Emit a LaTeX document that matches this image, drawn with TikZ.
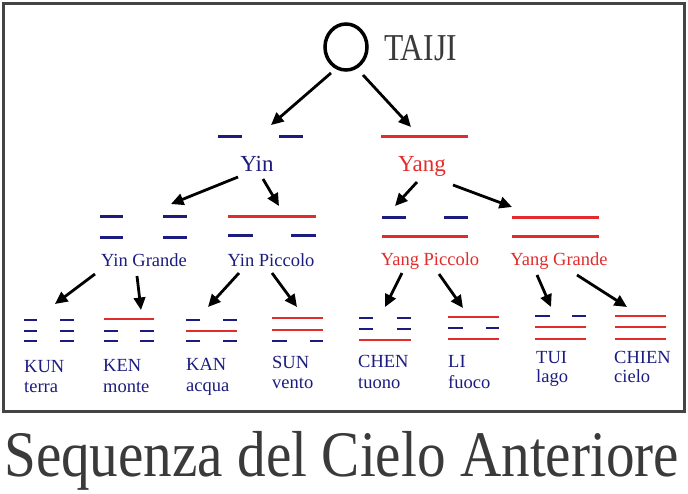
\documentclass[tikz,border=0pt]{standalone}
\usepackage{fontspec}
\setmainfont{Liberation Serif}
\usetikzlibrary{arrows.meta,shapes.geometric}
\definecolor{yinblue}{RGB}{28,28,128}
\definecolor{yangred}{RGB}{226,44,44}
\definecolor{txtgrey}{RGB}{58,58,58}
\definecolor{framegrey}{RGB}{68,68,68}
\begin{document}
\begin{tikzpicture}[x=1pt,y=-1pt,
  arr/.style={line width=2.8pt,-{Triangle[length=12.5pt,width=11.5pt]}},
  yinl/.style={yinblue,line width=3pt},
  yangl/.style={yangred,line width=3pt},
  yins/.style={yinblue,line width=2.2pt},
  yangs/.style={yangred,line width=2.2pt},
  lbl/.style={inner sep=0pt,anchor=base west,font=\fontsize{18.5}{18.5}\selectfont,text=yinblue},
  mid/.style={inner sep=0pt,anchor=base,font=\fontsize{18.5}{18.5}\selectfont},
  top/.style={inner sep=0pt,anchor=base,font=\fontsize{23}{23}\selectfont}]
\useasboundingbox (0,0) rectangle (688,493);
\draw[framegrey,line width=3pt] (3.5,3.5) rectangle (684.5,411.5);
% Taiji
\node (taiji) [draw,ellipse,line width=3.5pt,minimum width=42pt,minimum height=46pt,inner sep=0pt] at (346,47) {};
\node (taijit) [inner sep=0pt,anchor=base west,font=\fontsize{38}{38}\selectfont,text=txtgrey] at (384,60) {\scalebox{0.83}[1]{TAIJI}};
% level 1 lines
\draw[yinl] (218,136) -- (242,136) (279,136) -- (303,136);
\draw[yangl] (381,136) -- (468,136);
\node (yin) [top,text=yinblue] at (257,171) {Yin};
\node (yang) [top,text=yangred] at (422,171) {Yang};
% level 2 lines
\draw[yinl] (100,216) -- (123,216) (163,216) -- (187,216) (100,237) -- (123,237) (163,237) -- (187,237);
\draw[yangl] (228,216) -- (316,216);
\draw[yinl] (228,235) -- (253,235) (291,235) -- (316,235);
\draw[yinl] (382,217) -- (406,217) (444,217) -- (468,217);
\draw[yangl] (382,236) -- (468,236);
\draw[yangl] (512,217) -- (599,217) (512,236) -- (599,236);
\node (yingr) [mid,text=yinblue] at (144,266) {Yin Grande};
\node (yinpi) [mid,text=yinblue] at (271,266) {Yin Piccolo};
\node (yangpi) [mid,text=yangred] at (430,265) {Yang Piccolo};
\node (yanggr) [mid,text=yangred] at (559,265) {Yang Grande};
% level 3 trigrams
% KUN
\draw[yins] (24,320) -- (37,320) (60,320) -- (74,320) (24,331) -- (37,331) (60,331) -- (74,331) (24,341) -- (37,341) (60,341) -- (74,341);
% KEN
\draw[yangs] (104,319) -- (154,319);
\draw[yins] (104,331) -- (118,331) (140,331) -- (154,331) (104,341) -- (118,341) (140,341) -- (154,341);
% KAN
\draw[yins] (186,320) -- (200,320) (223,320) -- (237,320) (186,341) -- (200,341) (223,341) -- (237,341);
\draw[yangs] (186,331) -- (237,331);
% SUN
\draw[yangs] (272,318) -- (323,318) (272,330) -- (323,330);
\draw[yins] (272,341) -- (287,341) (310,341) -- (323,341);
% CHEN
\draw[yins] (359,318) -- (373,318) (397,318) -- (411,318) (359,329) -- (373,329) (397,329) -- (411,329);
\draw[yangs] (359,340) -- (411,340);
% LI
\draw[yangs] (448,317) -- (499,317) (448,339) -- (499,339);
\draw[yins] (448,328) -- (463,328) (486,328) -- (499,328);
% TUI
\draw[yins] (535,316) -- (550,316) (572,316) -- (586,316);
\draw[yangs] (535,327) -- (586,327) (535,339) -- (586,339);
% CHIEN
\draw[yangs] (615,316) -- (666,316) (615,327) -- (666,327) (615,339) -- (666,339);
% labels
\node (kun) [lbl] at (24,372) {KUN};
\node (kunb) [lbl] at (24,392) {terra};
\node (ken) [lbl] at (103,371) {KEN};
\node (kenb) [lbl] at (103,392) {monte};
\node (kan) [lbl] at (186,370) {KAN};
\node (kanb) [lbl] at (186,391) {acqua};
\node (sun) [lbl] at (272,368) {SUN};
\node (sunb) [lbl] at (272,388) {vento};
\node (chen) [lbl] at (358,367) {CHEN};
\node (chenb) [lbl] at (358,388) {tuono};
\node (li) [lbl] at (448,367) {LI};
\node (lib) [lbl] at (448,388) {fuoco};
\node (tui) [lbl] at (536,363) {TUI};
\node (tuib) [lbl] at (536,382) {lago};
\node (chien) [lbl] at (614,363) {CHIEN};
\node (chienb) [lbl] at (614,382) {cielo};
% arrow end points
\coordinate (a1s) at (331,73); \coordinate (a1e) at (271,125);
\coordinate (a2s) at (363,75); \coordinate (a2e) at (411,127);
\coordinate (b1s) at (238,177); \coordinate (b1e) at (171,204);
\coordinate (b2s) at (263,179); \coordinate (b2e) at (279,206);
\coordinate (b3s) at (417,182); \coordinate (b3e) at (395,206);
\coordinate (b4s) at (453,185); \coordinate (b4e) at (512,207);
\coordinate (c1s) at (95,274); \coordinate (c1e) at (55,304);
\coordinate (c2s) at (137,276); \coordinate (c2e) at (141,310);
\coordinate (c3s) at (239,273); \coordinate (c3e) at (208,307);
\coordinate (c4s) at (272,273); \coordinate (c4e) at (297,307);
\coordinate (c5s) at (402,273); \coordinate (c5e) at (385,307);
\coordinate (c6s) at (439,274); \coordinate (c6e) at (463,308);
\coordinate (c7s) at (537,275); \coordinate (c7e) at (551,307);
\coordinate (c8s) at (577,275); \coordinate (c8e) at (627,307);
\foreach \p in {a1,a2,b1,b2,b3,b4,c1,c2,c3,c4,c5,c6,c7,c8}
  \draw[arr] (\p s) -- (\p e);
% title
\node (title) [inner sep=0pt,anchor=base west,font=\fontsize{65}{65}\selectfont,text=txtgrey] at (4,476) {\scalebox{0.88}[1]{Sequenza del Cielo Anteriore}};
\end{tikzpicture}
\end{document}
